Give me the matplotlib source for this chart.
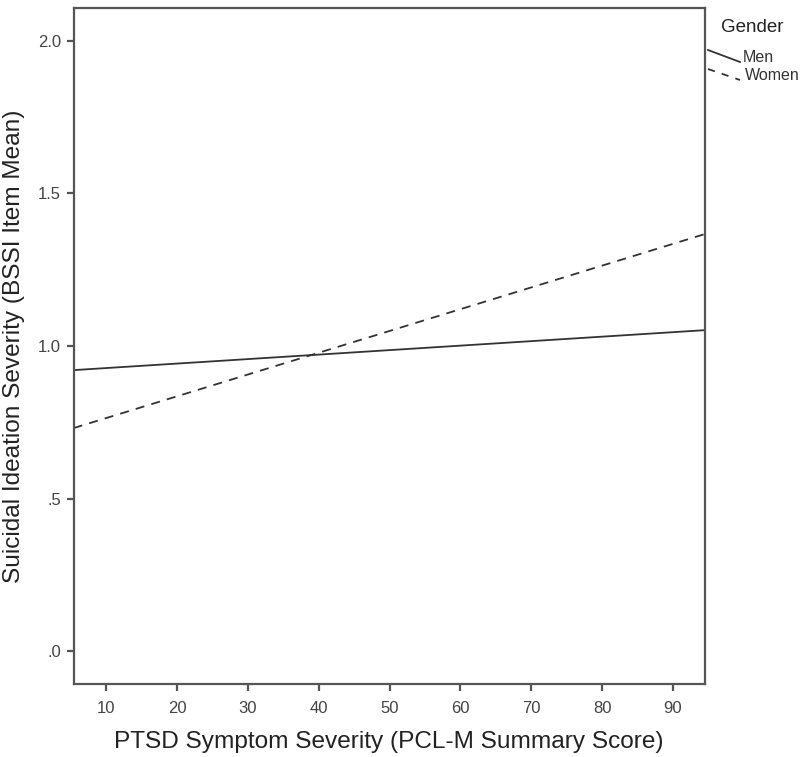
import matplotlib
matplotlib.use("Agg")
import matplotlib.pyplot as plt
import matplotlib.lines as mlines
import numpy as np

# Data
pcl_range = [5.4, 94.5]
men_y = [0.921, 1.052]
women_y = [0.731, 1.367]
x_ticks = [10, 20, 30, 40, 50, 60, 70, 80, 90]
y_ticks = [0.0, 0.5, 1.0, 1.5, 2.0]
y_tick_labels = [".0", ".5", "1.0", "1.5", "2.0"]

plt.rcParams.update({
    "font.family": ["Liberation Sans", "DejaVu Sans"],
})

line_color = "#333333"
spine_color = "#555555"

fig = plt.figure(figsize=(8, 7.57), dpi=100)
ax = fig.add_axes([0.092, 0.0964, 0.789, 0.893])

ax.plot(pcl_range, men_y, color=line_color, lw=1.3, linestyle="-")
ax.plot(pcl_range, women_y, color=line_color, lw=1.3, linestyle=(0, (5, 4)))

ax.set_xlim(pcl_range)
ax.set_ylim(-0.108, 2.108)
ax.set_xticks(x_ticks)
ax.set_yticks(y_ticks)
ax.set_yticklabels(y_tick_labels)

for s in ax.spines.values():
    s.set_color(spine_color)
    s.set_linewidth(1.6)
ax.tick_params(direction="out", length=5, width=1.6, color=spine_color,
               labelsize=12, labelcolor="#444444", pad=4)
ax.tick_params(axis="x", pad=7)

ax.set_xlabel("PTSD Symptom Severity (PCL-M Summary Score)", fontsize=17.6,
              color="#222222", labelpad=11)
ax.set_ylabel("Suicidal Ideation Severity (BSSI Item Mean)", fontsize=17.6,
              color="#222222", labelpad=9)

# Legend drawn by hand (slanted samples, as in the original)
fig.text(721 / 800, 1 - 27 / 757, "Gender", fontsize=13.5, color="#222222",
         va="center", ha="left")
fig.add_artist(mlines.Line2D([708 / 800, 740 / 800], [1 - 50 / 757, 1 - 62 / 757],
                             color=line_color, lw=1.3))
fig.add_artist(mlines.Line2D([708 / 800, 740 / 800], [1 - 69 / 757, 1 - 80 / 757],
                             color=line_color, lw=1.3, linestyle=(0, (4, 4))))
fig.text(743 / 800, 1 - 57 / 757, "Men", fontsize=11.5, color="#333333",
         va="center", ha="left")
fig.text(745 / 800, 1 - 76 / 757, "Women", fontsize=11.5, color="#333333",
         va="center", ha="left")

fig.savefig("out.png", dpi=100, facecolor="white")
